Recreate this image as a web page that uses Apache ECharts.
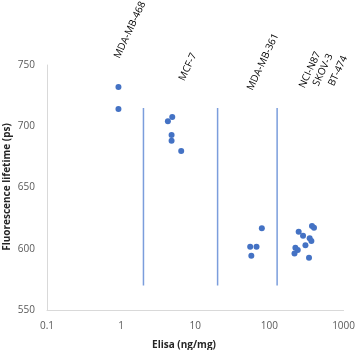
<!DOCTYPE html>
<html>
<head>
<meta charset="utf-8">
<script src="https://cdn.jsdelivr.net/npm/echarts@6/dist/echarts.min.js"></script>
<style>
  html, body { margin: 0; padding: 0; background: #fff; }
  #chart { width: 358px; height: 350px; }
</style>
</head>
<body>
<div id="chart"></div>
<script>
// Elisa (ng/mg) vs fluorescence lifetime (ps)
var elisa = [
  0.92, 0.92,
  4.89, 4.27, 4.79, 4.79, 6.46,
  79, 55, 67, 57,
  375, 399, 248, 284, 349, 368, 306, 224, 241, 218, 342
]
var lifetime = [
  732, 714,
  707.6, 704, 692.8, 688.1, 679.8,
  616.7, 601.7, 601.7, 594.3,
  618.6, 617.2, 613.9, 610.7, 608.5, 606.3, 602.8, 600.8, 598.9, 596.2, 592.6
]

// group separators (x) and their vertical extent (y)
var separatorX = [2, 20, 127]
var separatorY = [570, 715]

var cellLines = ['MDA-MB-468', 'MCF-7', 'MDA-MB-361', 'NCI-N87', 'SKOV-3', 'BT-474']
var cellLinePos = [[130, 30], [188, 67], [263, 62], [310, 70], [323, 70], [338, 71]]

var xTicks = ['0.1', '1', '10', '100', '1000']
var yTicks = [550, 600, 650, 700, 750]

var FONT = '"Open Sans", sans-serif'
var BLUE = '#4472C4'
var SEP = '#7b9ddc'

var chart = echarts.init(document.getElementById('chart'))

var series = [{
  type: 'scatter',
  symbolSize: 6,
  color: BLUE,
  itemStyle: { color: BLUE, opacity: 1 },
  data: elisa.map(function(x, i) { return [x, lifetime[i]] })
}]
separatorX.forEach(function(x) {
  series.push({
    type: 'line',
    symbol: 'none',
    silent: true,
    color: SEP,
    lineStyle: { color: SEP, width: 1.5 },
    data: [[x, separatorY[0]], [x, separatorY[1]]]
  })
})

chart.setOption({
  animation: false,
  color: [BLUE, SEP, SEP, SEP],
  textStyle: { fontFamily: FONT },
  grid: { left: 47, right: 13, top: 65, bottom: 40 },
  xAxis: {
    type: 'log',
    logBase: 10,
    min: 0.1,
    max: 1000,
    axisLine: { lineStyle: { color: '#d9d9d9' } },
    axisTick: { show: false },
    splitLine: { show: false },
    axisLabel: {
      color: '#595959',
      fontSize: 10,
      margin: 11,
      fontFamily: FONT,
      formatter: function(v) {
        var i = Math.round(Math.log10(v)) + 1
        return xTicks[i] !== undefined ? xTicks[i] : ''
      }
    }
  },
  yAxis: {
    type: 'value',
    min: yTicks[0],
    max: yTicks[yTicks.length - 1],
    interval: 50,
    axisLine: { show: true, lineStyle: { color: '#d9d9d9' } },
    axisTick: { show: false },
    splitLine: { show: false },
    axisLabel: { color: '#595959', fontSize: 10, margin: 12, fontFamily: FONT }
  },
  graphic: cellLines.map(function(name, i) {
    return {
      type: 'text',
      x: cellLinePos[i][0],
      y: cellLinePos[i][1],
      rotation: 65 * Math.PI / 180,
      style: {
        text: name,
        fill: '#000',
        font: '10px ' + FONT,
        align: 'center',
        verticalAlign: 'middle'
      }
    }
  }).concat([
    {
      type: 'text',
      x: 184,
      y: 345,
      style: {
        text: 'Elisa (ng/mg)',
        fill: '#262626',
        font: 'bold 10px ' + FONT,
        align: 'center',
        verticalAlign: 'middle'
      }
    },
    {
      type: 'text',
      x: 7,
      y: 187,
      rotation: Math.PI / 2,
      style: {
        text: 'Fluorescence lifetime (ps)',
        fill: '#262626',
        font: 'bold 10px ' + FONT,
        align: 'center',
        verticalAlign: 'middle'
      }
    }
  ]),
  series: series
})
</script>
</body>
</html>
